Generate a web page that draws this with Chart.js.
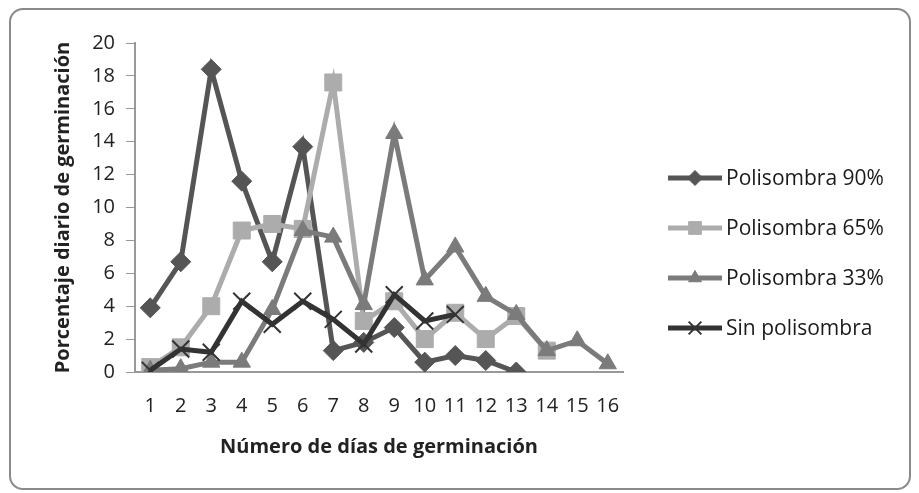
<!DOCTYPE html>
<html>
<head>
<meta charset="utf-8">
<script src="https://cdn.jsdelivr.net/npm/chart.js@4.4.0/dist/chart.umd.min.js"></script>
<style>
  html, body { margin: 0; padding: 0; background: #fff; }
  #wrap { position: relative; width: 919px; height: 493px; }
  #frame { position: absolute; left: 9px; top: 8px; width: 898px; height: 478px;
           border: 2px solid #8a8a8a; border-radius: 14px; }
  canvas { position: absolute; left: 0; top: 0; }
</style>
</head>
<body>
<div id="wrap">
  <div id="frame"></div>
  <canvas id="chart" width="919" height="493"></canvas>
</div>
<script>
const days = ['1','2','3','4','5','6','7','8','9','10','11','12','13','14','15','16'];
const poli90 = [3.9, 6.7, 18.4, 11.6, 6.7, 13.7, 1.3, 1.8, 2.7, 0.6, 1.0, 0.7, 0.0, null, null, null];
const poli65 = [0.3, 1.5, 4.0, 8.6, 9.0, 8.7, 17.6, 3.1, 4.3, 2.0, 3.6, 2.0, 3.4, 1.3, null, null];
const poli33 = [0.1, 0.2, 0.6, 0.6, 3.8, 8.6, 8.2, 4.1, 14.5, 5.6, 7.6, 4.6, 3.5, 1.3, 1.9, 0.5];
const sinPoli = [0.1, 1.4, 1.2, 4.3, 2.9, 4.3, 3.2, 1.7, 4.7, 3.1, 3.5, null, null, null, null, null];
const seriesNames = ['Polisombra 90%', 'Polisombra 65%', 'Polisombra 33%', 'Sin polisombra'];
const yTicks = [0, 2, 4, 6, 8, 10, 12, 14, 16, 18, 20];

const font = '"Open Sans", "Liberation Sans", sans-serif';

// legend drawn with line + marker like the original
const sideLegend = {
    id: 'sideLegend',
    afterDraw(chart) {
        const ctx = chart.ctx;
        const x0 = 668, x1 = 722;
        const ys = [178, 228, 278, 328];
        chart.data.datasets.forEach((ds, i) => {
            const y = ys[i];
            ctx.save();
            ctx.strokeStyle = ds.borderColor;
            ctx.fillStyle = ds.borderColor;
            ctx.lineWidth = 5;
            ctx.beginPath();
            ctx.moveTo(x0, y);
            ctx.lineTo(x1, y);
            ctx.stroke();
            ctx.lineWidth = ds.pointBorderWidth;
            Chart.helpers.drawPoint(ctx, {
                pointStyle: ds.pointStyle,
                radius: ds.pointRadius * 0.75,
                rotation: 0,
                borderWidth: ds.pointBorderWidth
            }, (x0 + x1) / 2, y);
            ctx.fillStyle = '#1a1a1a';
            ctx.font = '21px ' + font;
            ctx.textBaseline = 'middle';
            ctx.fillText(ds.label, x1 + 4, y + 1);
            ctx.restore();
        });
    }
};

function makeSet(label, data, color, style, radius, order) {
    return {
        label: label,
        data: data,
        order: order,
        borderColor: color,
        backgroundColor: color,
        pointBackgroundColor: color,
        pointBorderColor: color,
        borderWidth: 5,
        pointStyle: style,
        pointRadius: radius,
        pointHoverRadius: radius,
        pointBorderWidth: style === 'crossRot' ? 2 : 1,
        tension: 0,
        spanGaps: false
    };
}

const ctx = document.getElementById('chart').getContext('2d');
new Chart(ctx, {
    type: 'line',
    data: {
        labels: days,
        datasets: [
            makeSet(seriesNames[0], poli90, '#555555', 'rectRot', 10, 4),
            makeSet(seriesNames[1], poli65, '#acacac', 'rect', 12, 3),
            makeSet(seriesNames[2], poli33, '#7b7b7b', 'triangle', 10, 2),
            makeSet(seriesNames[3], sinPoli, '#333333', 'crossRot', 12, 1)
        ]
    },
    options: {
        responsive: false,
        animation: false,
        layout: { padding: { left: 45, right: 296, top: 43, bottom: 30 } },
        plugins: {
            legend: { display: false },
            tooltip: { enabled: false }
        },
        scales: {
            x: {
                offset: true,
                grid: { display: false, drawTicks: false },
                border: { color: '#999999', width: 2 },
                ticks: { color: '#222', font: { family: font, size: 20 }, padding: 22, maxRotation: 0, autoSkip: false },
                title: { display: true, text: 'Número de días de germinación', color: '#222',
                         font: { family: font, size: 20, weight: 'bold' }, padding: { top: 0, bottom: 4 } },
                afterFit(scale) { scale.height = 91; }
            },
            y: {
                min: 0, max: 20,
                afterBuildTicks(scale) { scale.ticks = yTicks.map(v => ({ value: v })); },
                grid: { display: true, drawOnChartArea: false, drawTicks: true, tickLength: 9, tickColor: '#999999' },
                border: { color: '#999999', width: 2 },
                ticks: { color: '#222', font: { family: font, size: 20 }, padding: 11 },
                title: { display: true, text: 'Porcentaje diario de germinación', color: '#222',
                         font: { family: font, size: 20, weight: 'bold' }, padding: { top: 6, bottom: 0 } },
                afterFit(scale) { scale.width = 90; }
            }
        }
    },
    plugins: [sideLegend]
});
</script>
</body>
</html>
